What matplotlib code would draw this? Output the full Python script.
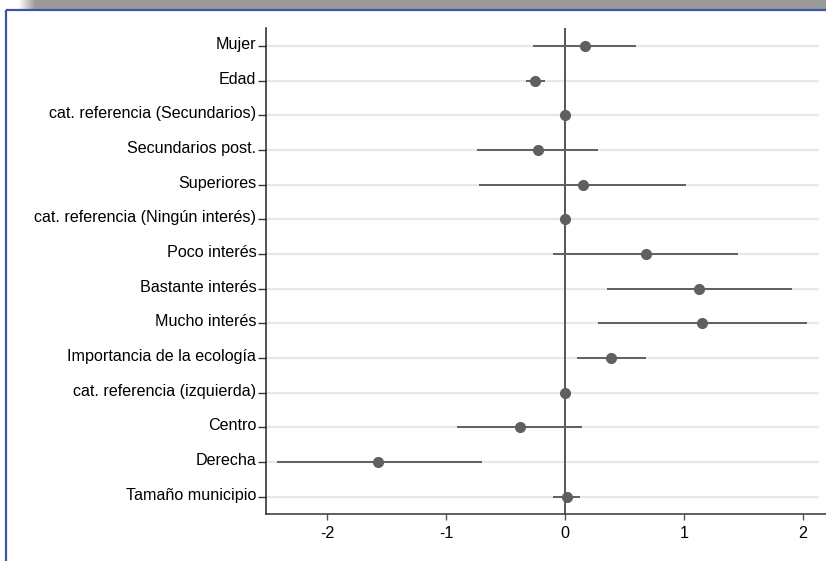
import numpy as np
import matplotlib
matplotlib.use("Agg")
import matplotlib.pyplot as plt
import matplotlib.transforms as mtransforms
from matplotlib.colors import LinearSegmentedColormap

labels = ["Mujer", "Edad", "cat. referencia (Secundarios)", "Secundarios post.",
          "Superiores", "cat. referencia (Ningún interés)", "Poco interés",
          "Bastante interés", "Mucho interés", "Importancia de la ecología",
          "cat. referencia (izquierda)", "Centro", "Derecha", "Tamaño municipio"]
coef = [0.17, -0.25, 0.0, -0.23, 0.15, 0.0, 0.68, 1.13, 1.15, 0.39, 0.0, -0.38, -1.57, 0.02]
ci_low = [-0.27, -0.33, 0.0, -0.74, -0.72, 0.0, -0.10, 0.35, 0.28, 0.10, 0.0, -0.91, -2.42, -0.10]
ci_high = [0.60, -0.17, 0.0, 0.28, 1.02, 0.0, 1.45, 1.91, 2.03, 0.68, 0.0, 0.14, -0.70, 0.13]
xticks = [-2, -1, 0, 1, 2]

W, H = 826, 561
fig = plt.figure(figsize=(W/100, H/100), dpi=100)
fig.patch.set_facecolor("white")

# top gray bar (window chrome)
bar = fig.add_axes([0, 1 - 9/H, 1, 9/H])
grad = np.concatenate([np.zeros(18), np.linspace(0, 1, 18), np.ones(W - 36)])
cmap = LinearSegmentedColormap.from_list("g", ["#ffffff", "#9a9a9a"])
bar.imshow(grad[None, :], aspect="auto", cmap=cmap, extent=[0, 1, 0, 1])
bar.axis("off")

# blue frame lines
frame = fig.add_axes([0, 0, 1, 1], facecolor="none")
frame.set_xlim(0, W); frame.set_ylim(H, 0)
frame.axis("off")
frame.plot([6, W], [10, 10], color="#3a55a8", lw=1.6, solid_capstyle="butt")
frame.plot([6, 6], [10, H], color="#3a55a8", lw=1.6, solid_capstyle="butt")

left, right, top, bottom = 266, 826, 28, 514
ax = fig.add_axes([left/W, 1 - bottom/H, (right-left)/W, (bottom-top)/H])
y = np.arange(len(labels))
ax.set_xlim(-2.513, (826-565)/119)
ax.set_ylim(13.5, -0.52)

for yi in y:
    ax.axhline(yi, xmin=0, xmax=(818-266)/(826-266), color="#e8e8e8", lw=1.6, zorder=0)
ax.axvline(0, color="#555555", lw=1.4, zorder=1)
ax.hlines(y, ci_low, ci_high, color="#5f5f5f", lw=1.4, zorder=2)
ax.plot(coef, y, "o", color="#5f5f5f", ms=7, zorder=3, mec="#5f5f5f")

ax.set_yticks(y)
ax.set_yticklabels(labels, fontsize=11.6, fontfamily="Liberation Sans")
ax.set_xticks(xticks)
ax.set_xticklabels([str(t) for t in xticks], fontsize=11.6, fontfamily="Liberation Sans")
ax.tick_params(axis="y", length=6, width=1, color="#333333", pad=1.0)
ax.tick_params(axis="x", length=4.5, width=1, color="#555555", pad=4)
offset = mtransforms.ScaledTranslation(0, 3/100, fig.dpi_scale_trans)
for lab in ax.get_yticklabels():
    lab.set_transform(lab.get_transform() + offset)
for s in ["top", "right"]:
    ax.spines[s].set_visible(False)
ax.spines["left"].set_color("#222222")
ax.spines["bottom"].set_color("#333333")
ax.spines["left"].set_linewidth(1.1)
ax.spines["bottom"].set_linewidth(1.1)

fig.savefig("out.png", dpi=100)
